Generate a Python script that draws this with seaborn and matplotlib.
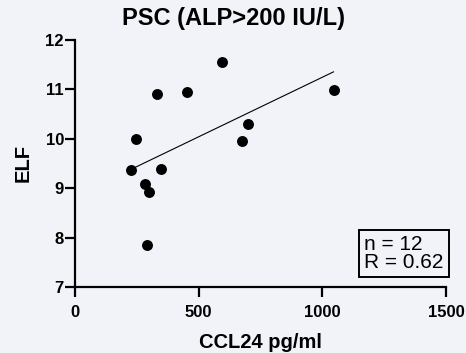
import numpy as np
import pandas as pd
import matplotlib
matplotlib.use("Agg")
import matplotlib.pyplot as plt
import seaborn as sns

# ======================================
# DATA
# ======================================
ccl24 = [226, 247, 283, 300, 292, 332, 348, 452, 596, 675, 700, 1046]
elf = [9.37, 10.00, 9.09, 8.93, 7.85, 10.90, 9.38, 10.95, 11.55, 9.95, 10.30, 10.99]
x_ticks = [0, 500, 1000, 1500]
y_ticks = [7, 8, 9, 10, 11, 12]
title = "PSC (ALP>200 IU/L)"
stats_text = "n = 12\nR = 0.62"

df = pd.DataFrame({"CCL24": ccl24, "ELF": elf})

# ======================================
# STYLE
# ======================================
bg = "#F2F3F8"
sns.set_style("ticks", {"text.color": "black", "xtick.color": "black", "ytick.color": "black",
                        "axes.labelcolor": "black", "axes.edgecolor": "black"})
plt.rcParams["font.family"] = ["Liberation Sans", "DejaVu Sans"]

fig = plt.figure(figsize=(4.66, 3.53), dpi=100, facecolor=bg)
ax = fig.add_axes([0.161, 0.187, 0.796, 0.700])
ax.set_facecolor(bg)

sns.regplot(
    data=df, x="CCL24", y="ELF", ax=ax, ci=None,
    scatter_kws={"s": 62, "color": "black", "alpha": 1, "linewidths": 0, "zorder": 3},
    line_kws={"color": "black", "linewidth": 0.8},
)

ax.set_xlim(0, 1500)
ax.set_ylim(7, 12)
ax.set_xticks(x_ticks)
ax.set_yticks(y_ticks)
ax.tick_params(axis="both", labelsize=12, length=7, width=1.6, direction="out",
               color="black", labelcolor="black")
ax.tick_params(axis="x", pad=6)
ax.tick_params(axis="y", pad=1)
for lbl in ax.get_xticklabels() + ax.get_yticklabels():
    lbl.set_fontweight("bold")
sns.despine(ax=ax)
for side in ["left", "bottom"]:
    ax.spines[side].set_linewidth(1.6)
    ax.spines[side].set_color("black")

ax.set_xlabel("CCL24 pg/ml", fontsize=14.5, fontweight="bold", labelpad=9, color="black")
ax.set_ylabel("ELF", fontsize=14.5, fontweight="bold", labelpad=9, color="black")
fig.text(0.5, 0.948, title, ha="center", va="center", fontsize=17, fontweight="bold", color="black")

ax.text(
    0.779, 0.06, stats_text, transform=ax.transAxes, ha="left", va="bottom",
    fontsize=15, linespacing=0.95, color="black",
    bbox=dict(boxstyle="square,pad=0.25", facecolor=bg, edgecolor="black", linewidth=1.4),
)

fig.savefig("out.png", dpi=100, facecolor=bg)
